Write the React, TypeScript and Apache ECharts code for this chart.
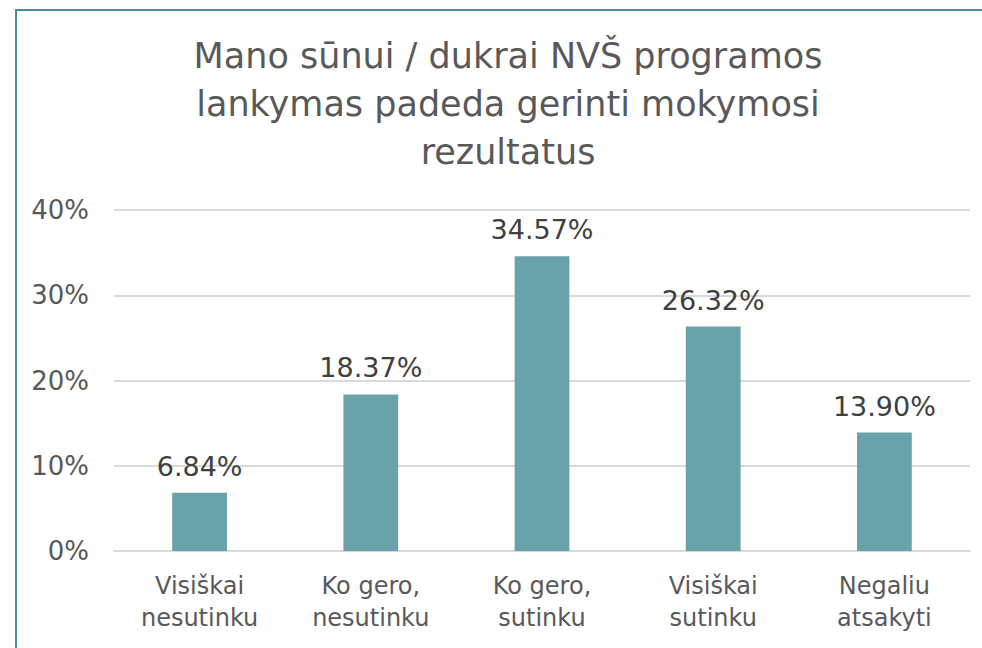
import React, { useEffect, useRef } from "react";
import * as echarts from "echarts";

const categories = ["Visiškai\nnesutinku", "Ko gero,\nnesutinku", "Ko gero,\nsutinku", "Visiškai\nsutinku", "Negaliu\natsakyti"];
const values = [6.84, 18.37, 34.57, 26.32, 13.9];
const titleText = "Mano sūnui / dukrai NVŠ programos\nlankymas padeda gerinti mokymosi\nrezultatus";

const FONT = "DejaVu Sans, Verdana, sans-serif";

export default function App() {
  const ref = useRef<HTMLDivElement>(null);
  useEffect(() => {
    const chart = echarts.init(ref.current!, null, { renderer: "svg" });
    chart.setOption({
      animation: false,
      backgroundColor: "#ffffff",
      textStyle: { fontFamily: FONT },
      graphic: [
        { type: "rect", shape: { x: 16, y: 10, width: 1000, height: 700 }, style: { fill: "none", stroke: "#4f8a96", lineWidth: 2 }, silent: true },
        {
          type: "text",
          x: 508,
          y: 32,
          style: {
            text: titleText,
            fontSize: 35,
            fontFamily: FONT,
            fill: "#595959",
            lineHeight: 48,
            align: "center",
            verticalAlign: "top",
          },
          silent: true,
        },
      ],
      grid: { left: 114, right: 12, top: 210, bottom: 97, containLabel: false },
      xAxis: {
        type: "category",
        data: categories,
        axisLine: { show: true, lineStyle: { color: "#d9d9d9", width: 2 } },
        axisTick: { show: false },
        axisLabel: { fontSize: 24, color: "#595959", lineHeight: 32, margin: 19, fontFamily: FONT },
      },
      yAxis: {
        type: "value",
        min: 0,
        max: 40,
        interval: 10,
        axisLabel: { formatter: "{value}%", fontSize: 26, color: "#595959", margin: 25, fontFamily: FONT },
        splitLine: { lineStyle: { color: "#d9d9d9", width: 2 } },
        axisLine: { show: false },
        axisTick: { show: false },
      },
      series: [
        {
          type: "bar",
          data: values,
          barWidth: "32%",
          itemStyle: { color: "#6aa2ab" },
          label: {
            show: true,
            position: "top",
            distance: 13,
            fontSize: 27,
            color: "#404040",
            fontFamily: FONT,
            formatter: (p: any) => p.value.toFixed(2) + "%",
          },
        },
      ],
    });
    return () => chart.dispose();
  }, []);
  return <div ref={ref} style={{ position: "absolute", left: 0, top: 0, width: 982, height: 648 }} />;
}
